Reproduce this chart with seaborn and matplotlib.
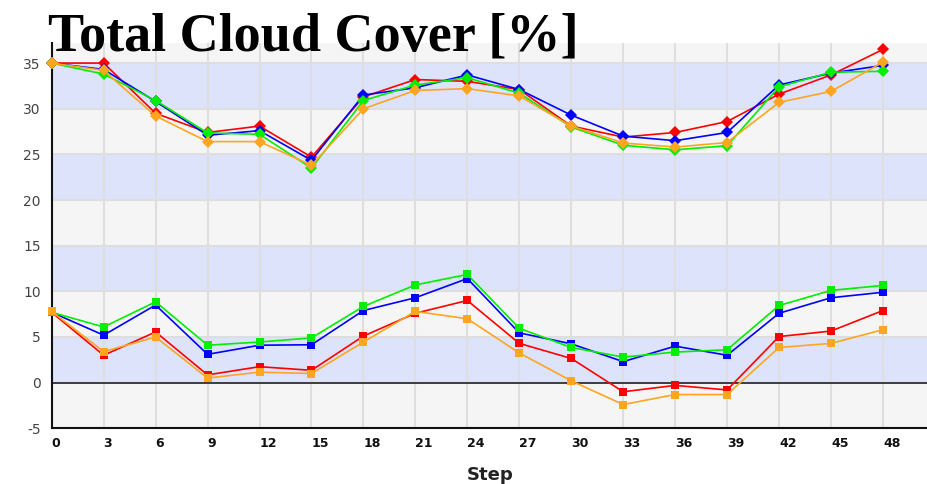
import matplotlib
matplotlib.use("Agg")
import matplotlib.pyplot as plt
import seaborn as sns
import pandas as pd
from matplotlib.ticker import MultipleLocator

steps = [0, 3, 6, 9, 12, 15, 18, 21, 24, 27, 30, 33, 36, 39, 42, 45, 48]

# upper group (diamond markers)
upper_red = [35.0, 35.0, 29.5, 27.4, 28.1, 24.7, 31.3, 33.2, 33.0, 32.1, 28.1, 26.9, 27.4, 28.6, 31.6, 33.7, 36.5]
upper_blue = [35.0, 34.3, 30.8, 27.1, 27.6, 24.35, 31.5, 32.3, 33.7, 32.1, 29.3, 27.0, 26.5, 27.4, 32.6, 33.9, 34.75]
upper_green = [35.0, 33.8, 30.9, 27.35, 27.2, 23.5, 30.9, 32.6, 33.4, 31.7, 28.0, 26.0, 25.5, 25.95, 32.4, 34.0, 34.1]
upper_orange = [35.0, 34.2, 29.2, 26.4, 26.4, 23.8, 30.0, 32.0, 32.2, 31.4, 28.1, 26.25, 25.8, 26.3, 30.7, 31.9, 35.1]

# lower group (square markers)
lower_red = [7.7, 3.0, 5.55, 0.85, 1.75, 1.35, 5.1, 7.6, 9.0, 4.3, 2.65, -1.0, -0.3, -0.8, 5.05, 5.65, 7.9]
lower_blue = [7.7, 5.2, 8.5, 3.1, 4.1, 4.15, 7.9, 9.3, 11.4, 5.45, 4.25, 2.3, 4.0, 3.0, 7.6, 9.3, 9.9]
lower_green = [7.7, 6.1, 8.85, 4.1, 4.45, 4.9, 8.35, 10.7, 11.85, 5.95, 3.85, 2.8, 3.35, 3.6, 8.45, 10.1, 10.65]
lower_orange = [7.8, 3.4, 5.0, 0.5, 1.15, 1.0, 4.45, 7.8, 7.0, 3.25, 0.2, -2.4, -1.3, -1.3, 3.85, 4.3, 5.8]

title = "Total Cloud Cover [%]"
xlabel = "Step"

colors = {"red": "#ff0000", "blue": "#0000ff", "green": "#00ee00", "orange": "#ffa520"}

sns.set_style("white")
plt.rcParams["axes.unicode_minus"] = False

fig = plt.figure(figsize=(9.28, 4.84), dpi=100)
ax = fig.add_axes([51.7 / 928, 1 - 428.3 / 484, 1 - 51.7 / 928, (428.3 - 43) / 484])

ax.set_xlim(0, 50.6)
ax.set_ylim(-5, 37.2)

# background bands
ax.set_facecolor("#f5f5f5")
for lo in (0, 10, 20, 30):
    ax.axhspan(lo, lo + 5, color="#dce3fb", zorder=0, lw=0)

ax.xaxis.set_major_locator(MultipleLocator(3))
ax.yaxis.set_major_locator(MultipleLocator(5))
ax.yaxis.set_minor_locator(MultipleLocator(1))
ax.grid(True, which="major", color="#dedede", lw=1.5, zorder=0.5)
ax.set_axisbelow(True)
ax.axhline(0, color="#222222", lw=1.2, zorder=1)

series = [
    (upper_red, "red", "D", 6), (upper_blue, "blue", "D", 6),
    (upper_green, "green", "D", 6), (upper_orange, "orange", "D", 6),
    (lower_red, "red", "s", 5.5), (lower_blue, "blue", "s", 5.5),
    (lower_green, "green", "s", 5.5), (lower_orange, "orange", "s", 5.5),
]
for vals, cname, mk, ms in series:
    df = pd.DataFrame({"step": steps, "value": vals})
    sns.lineplot(data=df, x="step", y="value", ax=ax, color=colors[cname],
                 marker=mk, markersize=ms, markeredgewidth=0, lw=1.2,
                 clip_on=False, zorder=3)

for s in ("top", "right"):
    ax.spines[s].set_visible(False)
for s in ("left", "bottom"):
    ax.spines[s].set_color("#111111")
    ax.spines[s].set_linewidth(1.5)

ax.tick_params(axis="y", which="major", direction="in", length=6, width=1.2,
               color="#111111", labelsize=10, labelcolor="#444444", pad=8)
ax.tick_params(axis="y", which="minor", direction="in", length=4, width=1.2, color="#111111")
ax.tick_params(axis="x", which="major", direction="in", length=6, width=1.2,
               color="#111111", labelsize=9, labelcolor="#111111", pad=6)
ax.set_xticks(steps)
ax.set_xticklabels([str(s) for s in steps], fontweight="bold", ha="left")
ax.set_ylabel("")
ax.set_xlabel(xlabel, fontsize=13, fontweight="bold", color="#222222", labelpad=12)

fig.text(48 / 928, 1 - 51 / 484, title, fontsize=39, fontweight="bold", color="black",
         family=["Liberation Serif", "DejaVu Serif"], va="baseline", ha="left", zorder=10)

fig.savefig("out.png", dpi=100)
